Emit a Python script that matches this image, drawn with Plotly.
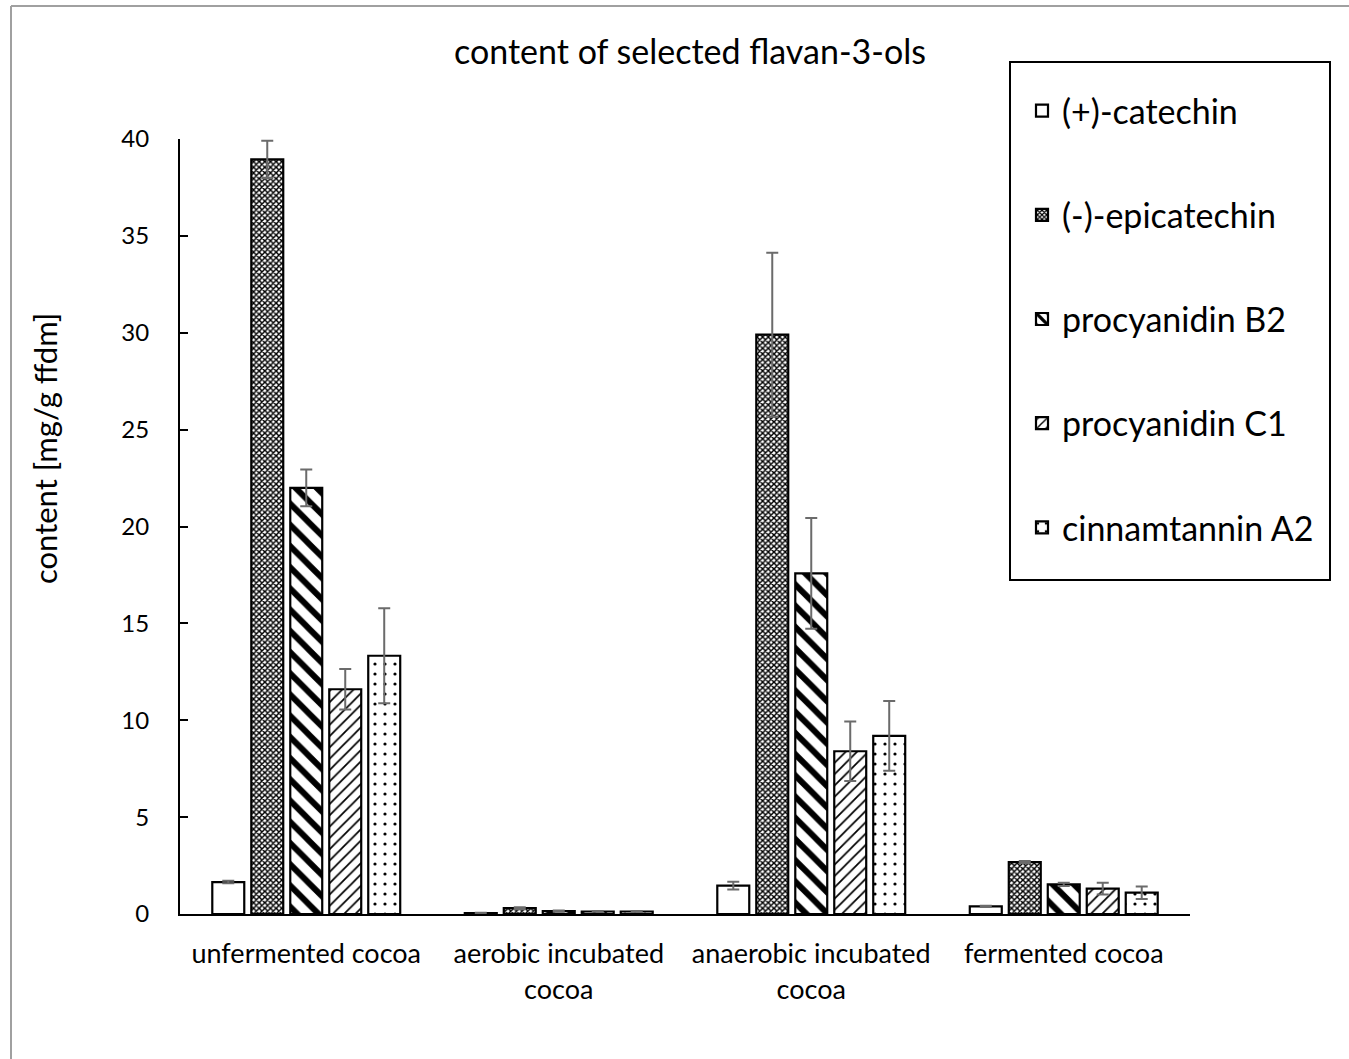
import plotly.graph_objects as go

categories = ["unfermented cocoa", "aerobic incubated<br>cocoa", "anaerobic incubated<br>cocoa", "fermented cocoa"]
series_names = ["(+)-catechin", "(-)-epicatechin", "procyanidin B2", "procyanidin C1", "cinnamtannin A2"]

catechin = [1.65, 0.05, 1.46, 0.39]
catechin_err = [0.06, 0.01, 0.2, 0.03]
epicatechin = [38.95, 0.30, 29.9, 2.68]
epicatechin_err = [0.96, 0.05, 4.23, 0.05]
procyanidin_b2 = [21.99, 0.15, 17.58, 1.53]
procyanidin_b2_err = [0.95, 0.03, 2.86, 0.08]
procyanidin_c1 = [11.6, 0.13, 8.4, 1.31]
procyanidin_c1_err = [1.05, 0.02, 1.53, 0.3]
cinnamtannin_a2 = [13.33, 0.13, 9.19, 1.1]
cinnamtannin_a2_err = [2.45, 0.02, 1.8, 0.32]

values = [catechin, epicatechin, procyanidin_b2, procyanidin_c1, cinnamtannin_a2]
errors = [catechin_err, epicatechin_err, procyanidin_b2_err, procyanidin_c1_err, cinnamtannin_a2_err]

patterns = [
    dict(shape=""),
    dict(shape="x", size=4, solidity=0.6, fgcolor="black", bgcolor="white", fillmode="overlay", fgopacity=1),
    dict(shape="\\", size=15, solidity=0.4, fgcolor="black", bgcolor="white", fillmode="overlay", fgopacity=1),
    dict(shape="/", size=8, solidity=0.22, fgcolor="black", bgcolor="white", fillmode="overlay", fgopacity=1),
    dict(shape=".", size=10, solidity=0.08, fgcolor="black", bgcolor="white", fillmode="overlay", fgopacity=1),
]

FONT = "Lato, Carlito, Calibri, sans-serif"

fig = go.Figure()
for i, name in enumerate(series_names):
    fig.add_trace(go.Bar(
        x=categories, y=values[i], name=name,
        legendgroup=name,
        marker=dict(color="white", line=dict(color="black", width=2.2), pattern=patterns[i]),
        error_y=dict(type="data", array=errors[i], visible=True, color="#6b6b6b", thickness=2, width=6),
    ))

W, H = 1349, 1059
L, R, T, B = 180, 1190, 139, 914

def px(x):
    return (x - L) / (R - L)

def py(y):
    return (B - y) / (B - T)

fig.update_layout(
    width=W, height=H,
    margin=dict(l=L, r=W - R, t=T, b=H - B, pad=0),
    paper_bgcolor="white", plot_bgcolor="white",
    font=dict(family=FONT, color="black"),
    barmode="group", bargap=0.228, bargroupgap=0.18,
    title=dict(text="content of selected flavan-3-ols", x=(690) / W, xanchor="center",
               y=1 - 52 / H, yanchor="middle", font=dict(size=34, family=FONT)),
    showlegend=True,
    legend=dict(x=px(1022), y=py(82), xanchor="left", yanchor="top",
                font=dict(size=34, family=FONT), bgcolor="rgba(0,0,0,0)",
                borderwidth=0, tracegroupgap=57, itemwidth=30),
    xaxis=dict(showline=True, linecolor="black", linewidth=2, ticks="", showgrid=False,
               tickfont=dict(size=27, family=FONT), ticklabelstandoff=15),
    yaxis=dict(range=[0, 40], tickvals=[0, 5, 10, 15, 20, 25, 30, 35, 40], showline=True,
               linecolor="black", linewidth=2, ticks="inside", ticklen=8, tickwidth=1.5,
               tickcolor="black", showgrid=False, zeroline=False,
               tickfont=dict(size=24, family=FONT), ticklabelstandoff=24),
    shapes=[
        dict(type="rect", xref="paper", yref="paper", x0=px(1010), x1=px(1330), y0=py(580), y1=py(62),
             line=dict(color="black", width=2), fillcolor="rgba(0,0,0,0)", layer="below"),
        dict(type="line", xref="paper", yref="paper", x0=px(11), x1=px(11), y0=py(6), y1=py(1070),
             line=dict(color="#a0a0a0", width=2)),
        dict(type="line", xref="paper", yref="paper", x0=px(11), x1=px(1360), y0=py(6), y1=py(6),
             line=dict(color="#a0a0a0", width=2)),
    ],
    annotations=[
        dict(text="content [mg/g ffdm]", xref="paper", yref="paper", x=px(45), y=py(449),
             xanchor="center", yanchor="middle", textangle=-90, showarrow=False,
             font=dict(size=31, family=FONT)),
    ],
)

fig.write_html("out.html")
